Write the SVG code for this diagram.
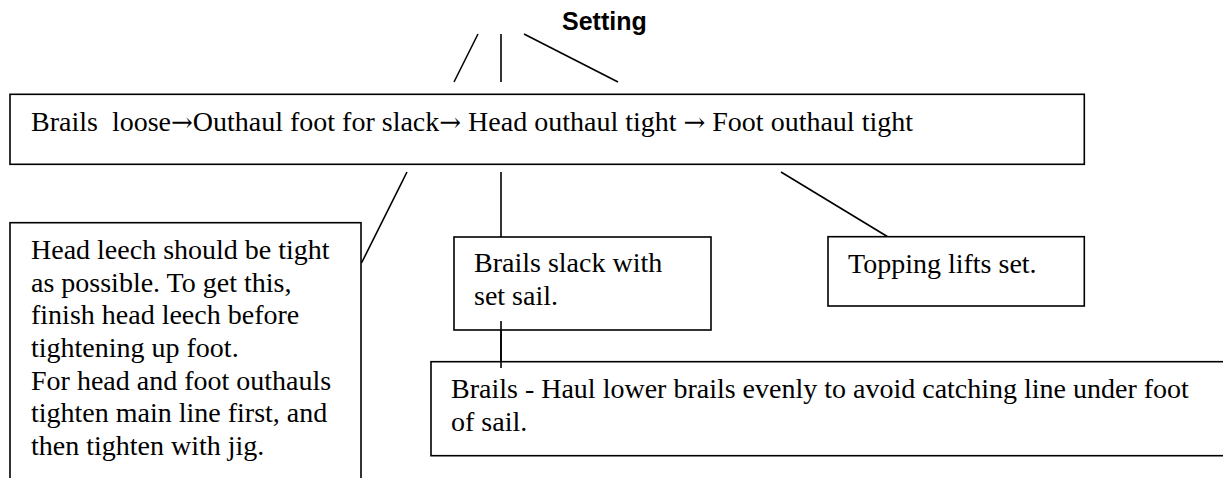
<svg xmlns="http://www.w3.org/2000/svg" width="1223" height="478" viewBox="0 0 1223 478">
<style>
.box{fill:#fff;stroke:#000;stroke-width:1.6}
.con{stroke:#000;stroke-width:1.6;fill:none}
.t{font-family:"Liberation Serif","Times New Roman",serif;font-size:28px;fill:#000}
.ar{font-family:"DejaVu Serif","Liberation Serif",serif;font-size:26px}
.title{font-family:"Liberation Sans",Arial,sans-serif;font-size:25px;font-weight:bold;fill:#000}
</style>
<rect width="1223" height="478" fill="#fff"/>
<g id="title"><text class="title" x="562" y="30">Setting</text></g>
<g id="connectors">
<line class="con" x1="478" y1="34" x2="454" y2="82"/>
<line class="con" x1="501" y1="34" x2="501" y2="82"/>
<line class="con" x1="524" y1="34" x2="618" y2="82"/>
<line class="con" x1="407" y1="172" x2="361.5" y2="263"/>
<line class="con" x1="501" y1="172" x2="501" y2="242"/>
<line class="con" x1="781" y1="172" x2="898" y2="243"/>
<line class="con" x1="501" y1="321" x2="501" y2="368"/>
</g>
<g id="main">
<rect class="box" x="10" y="94.3" width="1074.3" height="70"/>
<text class="t" x="31" y="131" xml:space="preserve">Brails  loose<tspan class="ar">→</tspan>Outhaul foot for slack<tspan class="ar">→</tspan> Head outhaul tight <tspan class="ar">→</tspan> Foot outhaul tight</text>
</g>
<g id="leech">
<rect class="box" x="10" y="222.7" width="351" height="270"/>
<text class="t" x="31" y="259">Head leech should be tight</text>
<text class="t" x="31" y="291.7">as possible. To get this,</text>
<text class="t" x="31" y="324.4">finish head leech before</text>
<text class="t" x="31" y="357">tightening up foot.</text>
<text class="t" x="31" y="389.8">For head and foot outhauls</text>
<text class="t" x="31" y="422.4">tighten main line first, and</text>
<text class="t" x="31" y="455">then tighten with jig.</text>
</g>
<g id="brails-slack">
<rect class="box" x="454" y="237" width="257" height="93"/>
<text class="t" x="474" y="272">Brails slack with</text>
<text class="t" x="474" y="305">set sail.</text>
</g>
<g id="topping">
<rect class="box" x="828" y="236.7" width="256.3" height="69.3"/>
<text class="t" x="848" y="272.7">Topping lifts set.</text>
</g>
<g id="brails-haul">
<rect class="box" x="431" y="361.7" width="800" height="94"/>
<text class="t" x="451" y="397.5">Brails - Haul lower brails evenly to avoid catching line under foot</text>
<text class="t" x="451" y="430.5">of sail.</text>
</g>
<g id="connectors-front">
<line class="con" x1="501" y1="321" x2="501" y2="368"/>
</g>
</svg>
